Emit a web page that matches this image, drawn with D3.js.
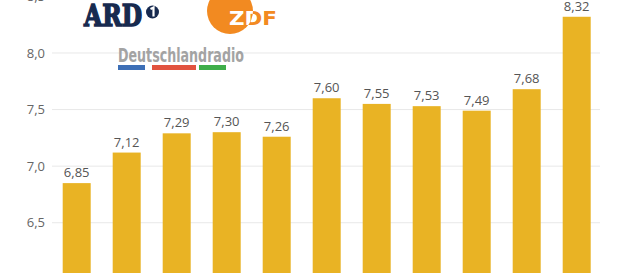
<!DOCTYPE html>
<html><head><meta charset="utf-8">
<script src="https://cdn.jsdelivr.net/npm/d3@7"></script>
<style>html,body{margin:0;padding:0;background:#fff;overflow:hidden}</style>
</head><body>
<svg id="c" width="620" height="273"></svg>
<script>
const categories = ["2004","2005","2006","2007","2008","2009","2010","2011","2012","2013","2014"];
const values = [6.85,7.12,7.29,7.30,7.26,7.60,7.55,7.53,7.49,7.68,8.32];
const yTicks = [6.5,7.0,7.5,8.0,8.5];
const logoLabels = ["ARD","ZDF","Deutschlandradio"];

const svg = d3.select("#c");
const fmt = v => d3.format(".2f")(v).replace(".", ",");
const fmtTick = v => d3.format(".1f")(v).replace(".", ",");

const y = d3.scaleLinear().domain([6.0, 8.5]).range([279.3, -3.6]);
const x = d3.scaleBand().domain(categories).range([51.7, 601.7]).paddingInner(0.44).paddingOuter(0.22);

// gridlines
svg.append("g").selectAll("line").data(yTicks).join("line")
  .attr("x1", 52).attr("x2", 600)
  .attr("y1", d => y(d)).attr("y2", d => y(d))
  .attr("stroke", "#e8e8e8").attr("stroke-width", 1);

// y labels
svg.append("g").selectAll("text").data(yTicks).join("text")
  .attr("x", 45).attr("y", d => y(d)).attr("dy", "0.35em")
  .attr("text-anchor", "end")
  .attr("font-family", "Open Sans, sans-serif").attr("font-size", 13)
  .attr("fill", "#666").text(fmtTick);

// logos (approximated as text/shapes)
const logo = svg.append("g");
logo.append("text").attr("x", 84).attr("y", 26)
  .attr("font-family", "DejaVu Serif, serif").attr("font-weight", "bold")
  .attr("font-size", 30).attr("fill", "#172a4f")
  .attr("stroke", "#172a4f").attr("stroke-width", 1.6)
  .attr("textLength", 58)
  .attr("lengthAdjust", "spacingAndGlyphs").text(logoLabels[0]);
logo.append("circle").attr("cx", 152.5).attr("cy", 12).attr("r", 6.5)
  .attr("fill", "#172a4f");
logo.append("path").attr("d", "M150.5 9 L153.5 7.5 L153.5 16.5")
  .attr("fill", "none").attr("stroke", "#fff").attr("stroke-width", 2.2);

const defs = svg.append("defs");
defs.append("clipPath").attr("id", "zc").append("circle")
  .attr("cx", 230).attr("cy", 11).attr("r", 23);
logo.append("circle").attr("cx", 230).attr("cy", 11).attr("r", 23).attr("fill", "#f28a21");
const zdf = (fill, clip) => {
  const t = logo.append("text").attr("x", 229).attr("y", 25)
    .attr("font-family", "DejaVu Sans, sans-serif").attr("font-weight", "bold")
    .attr("font-size", 19).attr("fill", fill).attr("textLength", 48)
    .attr("lengthAdjust", "spacingAndGlyphs").text(logoLabels[1]);
  if (clip) t.attr("clip-path", "url(#zc)");
};
zdf("#f28a21", false);
zdf("#fff", true);

logo.append("text").attr("x", 118).attr("y", 62)
  .attr("font-family", "DejaVu Sans Condensed, sans-serif").attr("font-weight", "bold")
  .attr("font-size", 19).attr("fill", "#a3a3a3").attr("textLength", 126)
  .attr("lengthAdjust", "spacingAndGlyphs").text(logoLabels[2]);
[[118, 27, "#3d6fb6"], [152, 44, "#e2533f"], [199, 27, "#3fae49"]].forEach(([bx, bw, c]) => {
  logo.append("rect").attr("x", bx).attr("y", 65).attr("width", bw).attr("height", 5).attr("fill", c);
});

// bars
svg.append("g").selectAll("rect").data(values).join("rect")
  .attr("x", (d, i) => x(categories[i]))
  .attr("width", x.bandwidth())
  .attr("y", d => y(d))
  .attr("height", d => y(6.0) - y(d))
  .attr("fill", "#e9b324");

// value labels
svg.append("g").selectAll("text").data(values).join("text")
  .attr("x", (d, i) => x(categories[i]) + x.bandwidth() / 2)
  .attr("y", d => y(d) - 6)
  .attr("text-anchor", "middle")
  .attr("font-family", "Open Sans, sans-serif").attr("font-size", 13)
  .attr("fill", "#555").text(fmt);

// category labels (below visible area)
svg.append("g").selectAll("text").data(categories).join("text")
  .attr("x", d => x(d) + x.bandwidth() / 2).attr("y", 295)
  .attr("text-anchor", "middle").attr("font-family", "Open Sans, sans-serif")
  .attr("font-size", 13).attr("fill", "#555").text(d => d);
</script>
</body></html>
